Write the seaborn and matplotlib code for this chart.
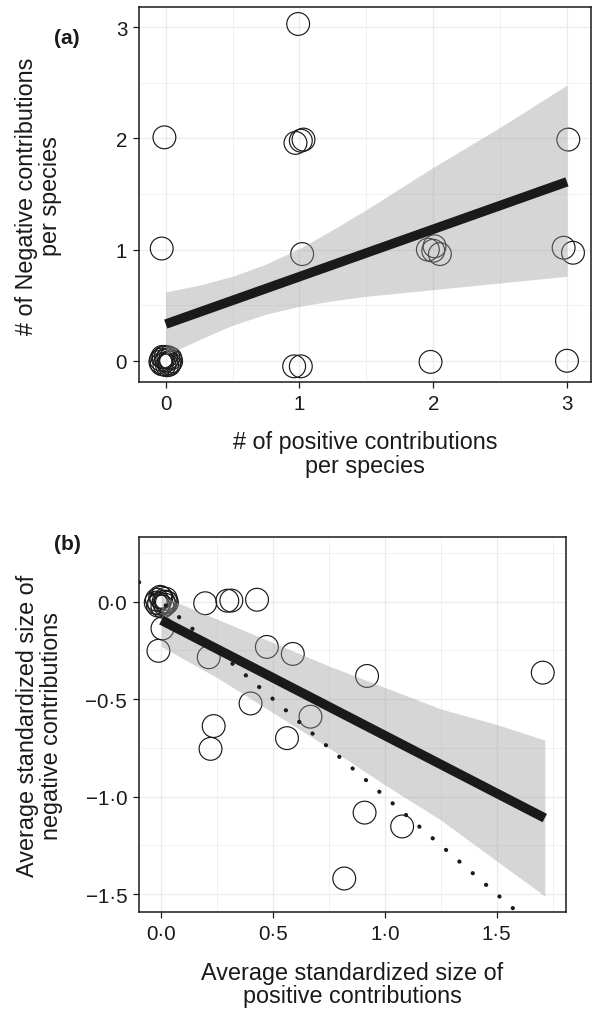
import matplotlib
matplotlib.use("Agg")
import matplotlib.pyplot as plt
import seaborn as sns

# ---------------------------------------------------------------
# Panel (a): number of positive vs negative contributions per species
# ---------------------------------------------------------------
pos_count = [-0.035, 0.030, 0.000, 0.010, -0.030, 0.035, -0.015, 0.020,
             -0.040, 0.040, -0.010, 0.025, -0.025, 0.005,
             0.99, -0.01, 0.97, 1.01, 1.03, 3.01, -0.03, 1.02,
             1.96, 2.01, 2.05, 2.00, 2.975, 3.045,
             0.96, 1.01, 1.98, 3.00]
neg_count = [0.010, -0.020, 0.035, -0.040, -0.030, 0.020, 0.030, 0.030,
             -0.010, -0.005, -0.035, -0.035, 0.035, 0.005,
             3.03, 2.01, 1.96, 1.98, 1.99, 1.99, 1.01, 0.96,
             1.00, 1.03, 0.96, 0.99, 1.017, 0.972,
             -0.05, -0.05, -0.01, 0.00]

# fitted linear trend and its confidence band
fit_a_x = [0.0, 3.0]
fit_a_y = [0.33, 1.61]
band_a_x = [0.0, 0.25, 0.5, 0.75, 1.0, 1.25, 1.5, 1.75, 2.0, 2.25, 2.5,
            2.75, 3.0]
band_a_lo = [0.05, 0.19, 0.32, 0.42, 0.49, 0.54, 0.58, 0.61, 0.64, 0.67,
             0.70, 0.73, 0.76]
band_a_hi = [0.62, 0.68, 0.76, 0.87, 1.01, 1.18, 1.36, 1.55, 1.74, 1.92,
             2.10, 2.29, 2.48]

ticks_a = [0, 1, 2, 3]
ticklabels_a = ["0", "1", "2", "3"]

# ---------------------------------------------------------------
# Panel (b): average standardized size of positive vs negative contributions
# ---------------------------------------------------------------
pos_size = [-0.020, 0.015, 0.000, 0.020, -0.015, 0.010, -0.025, 0.025,
            0.005, -0.005, 0.020, -0.010,
            0.005, -0.013, 0.196, 0.295, 0.313, 0.428, 0.212, 0.472,
            0.588, 0.920, 1.706, 0.399, 0.234, 0.220, 0.562, 0.667,
            0.909, 1.077, 0.818]
neg_size = [0.010, -0.015, 0.020, 0.015, -0.020, 0.000, -0.005, -0.005,
            -0.025, 0.025, 0.000, -0.010,
            -0.137, -0.252, -0.008, 0.005, 0.006, 0.010, -0.285, -0.232,
            -0.268, -0.381, -0.364, -0.522, -0.638, -0.755, -0.700, -0.590,
            -1.082, -1.153, -1.420]

fit_b_x = [0.0, 1.715]
fit_b_y = [-0.095, -1.11]
band_b_x = [0.0, 0.25, 0.5, 0.75, 1.0, 1.25, 1.5, 1.715]
band_b_lo = [-0.23, -0.39, -0.57, -0.75, -0.94, -1.12, -1.33, -1.51]
band_b_hi = [0.03, -0.09, -0.21, -0.33, -0.44, -0.55, -0.63, -0.71]

ticks_b_x = [0.0, 0.5, 1.0, 1.5]
ticklabels_b_x = ["0\u00b70", "0\u00b75", "1\u00b70", "1\u00b75"]
ticks_b_y = [0.0, -0.5, -1.0, -1.5]
ticklabels_b_y = ["0\u00b70", "\u22120\u00b75", "\u22121\u00b70", "\u22121\u00b75"]

# ---------------------------------------------------------------
sns.set_theme(style="white")
plt.rcParams["font.family"] = ["Liberation Sans", "DejaVu Sans"]

INK = "#1a1a1a"
GRID = "#ebebeb"
TICK_FS = 14.8
LABEL_FS = 16.8

fig = plt.figure(figsize=(5.93, 10.12), dpi=100)
ax_a = fig.add_axes([0.2344, 0.6212, 0.7623, 0.3706])
ax_b = fig.add_axes([0.2344, 0.0978, 0.7201, 0.3706])


def style_axes(ax, xt, xtl, yt, ytl, xminor, yminor):
    ax.set_xticks(xt)
    ax.set_xticklabels(xtl)
    ax.set_yticks(yt)
    ax.set_yticklabels(ytl)
    ax.xaxis.set_minor_locator(plt.MultipleLocator(xminor))
    ax.yaxis.set_minor_locator(plt.MultipleLocator(yminor))
    ax.grid(True, which="major", color=GRID, linewidth=0.9, zorder=0)
    ax.grid(True, which="minor", color=GRID, linewidth=0.5, zorder=0)
    ax.set_axisbelow(True)
    ax.tick_params(which="major", direction="out", length=4.5, width=0.9,
                   color=INK, labelsize=TICK_FS, labelcolor=INK, pad=4,
                   bottom=True, left=True)
    ax.tick_params(which="minor", length=0, bottom=False, left=False)
    for sp in ax.spines.values():
        sp.set_visible(True)
        sp.set_color(INK)
        sp.set_linewidth(1.1)


def draw_points(ax, x, y):
    sns.scatterplot(x=x, y=y, ax=ax, marker="o", s=270,
                    facecolor="none", edgecolor=INK, linewidth=0.85,
                    zorder=2, legend=False)


def draw_fit(ax, bx, lo, hi, fx, fy):
    ax.fill_between(bx, lo, hi, color="#999999", alpha=0.4,
                    linewidth=0, zorder=3)
    sns.lineplot(x=fx, y=fy, ax=ax, color=INK, linewidth=6.8,
                 solid_capstyle="butt", zorder=5, legend=False)


# ---- panel (a)
draw_points(ax_a, pos_count, neg_count)
draw_fit(ax_a, band_a_x, band_a_lo, band_a_hi, fit_a_x, fit_a_y)
style_axes(ax_a, ticks_a, ticklabels_a, ticks_a, ticklabels_a, 0.5, 0.5)
ax_a.set_xlim(-0.2, 3.18)
ax_a.set_ylim(-0.194, 3.18)
ax_a.set_xlabel("# of positive contributions\nper species", fontsize=LABEL_FS,
                color=INK, linespacing=1.05, va="center")
ax_a.xaxis.set_label_coords(0.5, -0.189)
ax_a.set_ylabel("# of Negative contributions\nper species", fontsize=LABEL_FS,
                color=INK, linespacing=1.05, va="center")
ax_a.yaxis.set_label_coords(-0.2217, 0.5)

# ---- panel (b)
draw_points(ax_b, pos_size, neg_size)
draw_fit(ax_b, band_b_x, band_b_lo, band_b_hi, fit_b_x, fit_b_y)
# 1:1 reference line
ax_b.axline((0, 0), slope=-1, color=INK, linewidth=3.0,
            linestyle=(0, (0.05, 4.2)), dash_capstyle="round", zorder=4)
style_axes(ax_b, ticks_b_x, ticklabels_b_x, ticks_b_y, ticklabels_b_y,
           0.25, 0.25)
ax_b.set_xlim(-0.1, 1.81)
ax_b.set_ylim(-1.592, 0.332)
ax_b.set_xlabel("Average standardized size of\npositive contributions",
                fontsize=LABEL_FS, color=INK, linespacing=1.05, va="center")
ax_b.xaxis.set_label_coords(0.5, -0.192)
ax_b.set_ylabel("Average standardized size of\nnegative contributions",
                fontsize=LABEL_FS, color=INK, linespacing=1.05, va="center")
ax_b.yaxis.set_label_coords(-0.234, 0.5)

# panel tags
fig.text(0.113, 1 - 39 / 1012, "(a)", fontsize=15, fontweight="bold",
         color=INK, ha="center", va="center")
fig.text(0.113, 1 - 545 / 1012, "(b)", fontsize=15, fontweight="bold",
         color=INK, ha="center", va="center")

fig.savefig("out.png", dpi=100)
